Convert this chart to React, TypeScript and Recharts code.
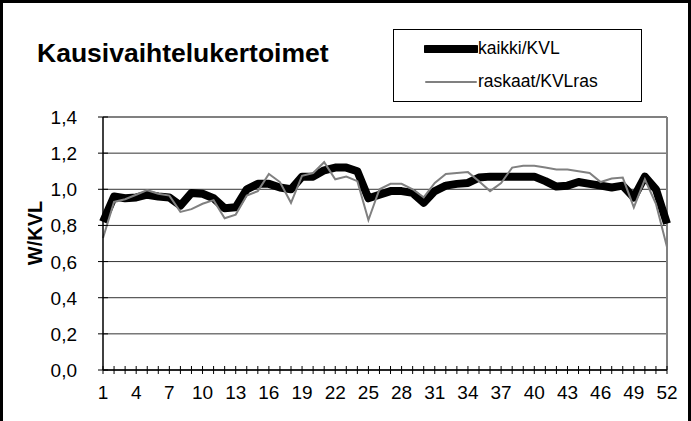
import { LineChart, Line, XAxis, YAxis, CartesianGrid, ReferenceLine } from 'recharts'

const WEEKS = Array.from({ length: 52 }, (_, i) => i + 1)

const KAIKKI = [
  0.82, 0.96, 0.95, 0.955, 0.97, 0.96, 0.955, 0.91, 0.98, 0.975,
  0.95, 0.895, 0.9, 1.0, 1.03, 1.03, 1.01, 1.0, 1.07, 1.07,
  1.105, 1.12, 1.12, 1.1, 0.95, 0.97, 0.99, 0.99, 0.98, 0.925,
  0.99, 1.02, 1.03, 1.035, 1.065, 1.07, 1.07, 1.07, 1.07, 1.07,
  1.045, 1.015, 1.02, 1.04, 1.03, 1.02, 1.01, 1.02, 0.955, 1.07,
  1.0, 0.81,
]

const RASKAAT = [
  0.73, 0.93, 0.945, 0.97, 0.995, 0.975, 0.965, 0.875, 0.89, 0.92,
  0.94, 0.84, 0.86, 0.965, 0.99, 1.085, 1.04, 0.925, 1.075, 1.09,
  1.15, 1.055, 1.07, 1.045, 0.83, 1.0, 1.03, 1.03, 1.0, 0.955,
  1.035, 1.085, 1.09, 1.095, 1.045, 0.99, 1.035, 1.12, 1.13, 1.13,
  1.12, 1.11, 1.11, 1.1, 1.09, 1.04, 1.06, 1.065, 0.9, 1.055,
  0.92, 0.68,
]

const Y_TICKS = [0, 0.2, 0.4, 0.6, 0.8, 1.0, 1.2, 1.4]

const data = WEEKS.map((w, i) => ({ week: w, kaikki: KAIKKI[i], raskaat: RASKAAT[i] }))

const FONT = "Arial, 'Liberation Sans', sans-serif"

// every week gets a crossing tick mark, every third one a label
function WeekTick(props: any) {
  const { x, y, payload } = props
  const showLabel = (payload.value - 1) % 3 === 0
  return (
    <g>
      <line x1={x} x2={x} y1={y - 4} y2={y + 4} stroke="#000" strokeWidth={1} />
      {showLabel && (
        <text x={x} y={y + 29} textAnchor="middle" fontSize={19} fontFamily={FONT} fill="#000">
          {payload.value}
        </text>
      )}
    </g>
  )
}

function ValueTick(props: any) {
  const { x, y, payload } = props
  return (
    <g>
      <line x1={x - 5} x2={x + 5} y1={y} y2={y} stroke="#000" strokeWidth={1} />
      <text x={x - 26} y={y + 7} textAnchor="end" fontSize={19} fontFamily={FONT} fill="#000">
        {payload.value.toFixed(1).replace('.', ',')}
      </text>
    </g>
  )
}

function AxisTitle() {
  return (
    <text
      transform="translate(35, 233) rotate(-90)"
      textAnchor="middle"
      dominantBaseline="central"
      fontSize={20}
      fontWeight="bold"
      fontFamily={FONT}
      fill="#000"
    >
      W/KVL
    </text>
  )
}

function LegendBox() {
  const row = (color: string, width: number, label: string) => (
    <div style={{ display: 'flex', alignItems: 'center', height: 33 }}>
      <svg width={54} height={10}>
        <line x1={2} x2={52} y1={5} y2={5} stroke={color} strokeWidth={width} strokeLinecap="round" />
      </svg>
      <span style={{ fontSize: 17.5, fontFamily: FONT, color: '#000' }}>{label}</span>
    </div>
  )
  return (
    <div
      style={{
        position: 'absolute',
        left: 393,
        top: 29,
        border: '1px solid #000',
        width: 249,
        height: 73,
        boxSizing: 'border-box',
        paddingLeft: 30,
        paddingTop: 2,
        background: '#fff',
      }}
    >
      {row('#000', 8, 'kaikki/KVL')}
      {row('#808080', 2, 'raskaat/KVLras')}
    </div>
  )
}

export default function App() {
  return (
    <div style={{ position: 'fixed', left: 0, top: 0, width: 691, height: 421, background: '#fff', overflow: 'hidden' }}>
      <LineChart width={691} height={421} data={data} margin={{ top: 117, right: 24, left: 0, bottom: 21 }}>
        <CartesianGrid horizontal vertical={false} stroke="#333" strokeWidth={1} />
        <XAxis
          dataKey="week"
          type="category"
          interval={0}
          tickSize={0}
          tickMargin={0}
          tickLine={false}
          tick={<WeekTick />}
          axisLine={{ stroke: '#000', strokeWidth: 1.5 }}
          height={30}
        />
        <YAxis
          domain={[0, 1.4]}
          ticks={Y_TICKS}
          interval={0}
          tickSize={0}
          tickMargin={0}
          tickLine={false}
          tick={<ValueTick />}
          axisLine={{ stroke: '#000', strokeWidth: 1.5 }}
          width={103}
          label={{ content: () => <AxisTitle /> }}
        />
        <ReferenceLine y={1.4} stroke="#808080" strokeWidth={2} />
        <ReferenceLine x={52} stroke="#808080" strokeWidth={2} />
        <Line
          type="linear"
          dataKey="kaikki"
          stroke="#000"
          strokeWidth={8}
          strokeLinejoin="round"
          dot={false}
          isAnimationActive={false}
        />
        <Line
          type="linear"
          dataKey="raskaat"
          stroke="#808080"
          strokeWidth={2}
          dot={false}
          isAnimationActive={false}
        />
      </LineChart>
      <div
        style={{
          position: 'absolute',
          left: 37,
          top: 38,
          fontSize: 26.5,
          lineHeight: '30px',
          fontWeight: 'bold',
          fontFamily: FONT,
          color: '#000',
        }}
      >
        Kausivaihtelukertoimet
      </div>
      <LegendBox />
      <div
        style={{
          position: 'absolute',
          left: 0,
          top: 0,
          width: 691,
          height: 440,
          border: '3px solid #000',
          boxSizing: 'border-box',
          pointerEvents: 'none',
        }}
      />
    </div>
  )
}
